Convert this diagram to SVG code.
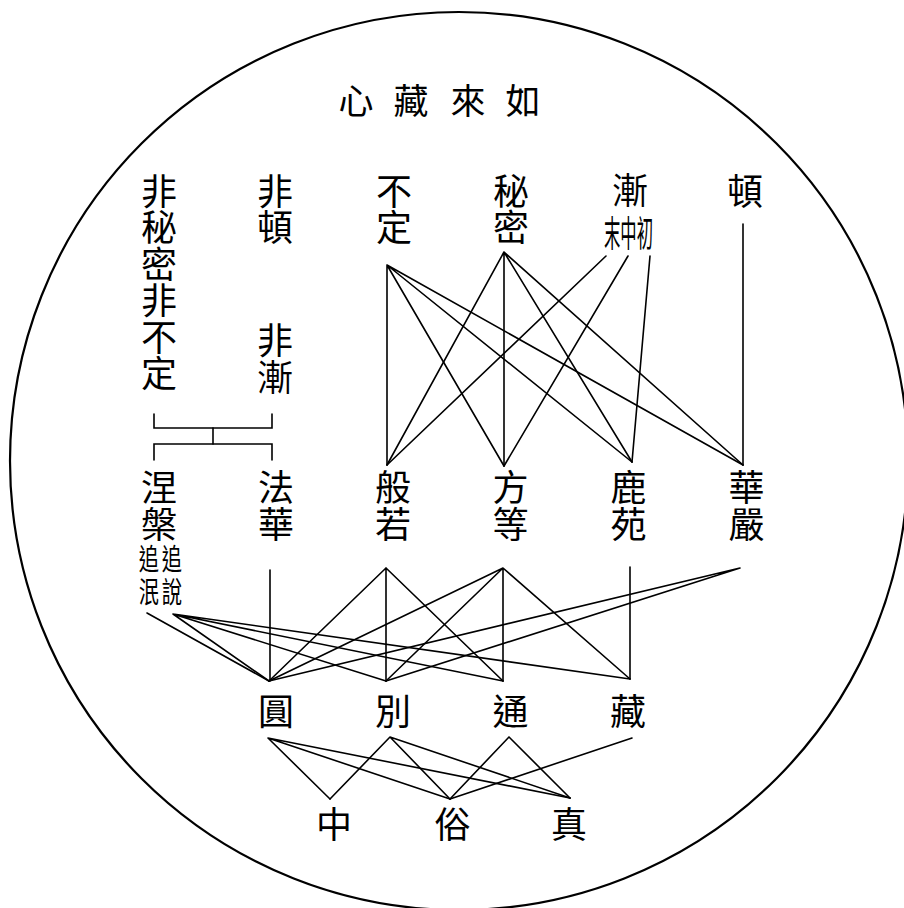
<svg xmlns="http://www.w3.org/2000/svg" width="904" height="908" viewBox="0 0 904 908">
<style>
  .t { font-family: "Noto Sans CJK TC", "Noto Sans CJK SC", sans-serif; font-size: 36px; fill: #000; text-anchor: middle; }
  .title { font-size: 35px; }
  .sm { font-size: 29px; }
  .c { fill: none; stroke: #000; stroke-width: 1.6; stroke-linecap: round; }
  .ring { fill: none; stroke: #000; stroke-width: 2.2; }
</style>
<rect width="904" height="908" fill="#fff"/>
<circle class="ring" cx="459" cy="461" r="449"/>

<g id="title">
  <text class="t title" x="356" y="114">心</text>
  <text class="t title" x="411" y="114">藏</text>
  <text class="t title" x="468" y="114">來</text>
  <text class="t title" x="523" y="114">如</text>
</g>

<g id="n-fei-mimi-fei-buding">
  <text class="t" x="159" y="204.7">非</text>
  <text class="t" x="159" y="241.2">秘</text>
  <text class="t" x="159" y="277.7">密</text>
  <text class="t" x="159" y="314.2">非</text>
  <text class="t" x="159" y="350.7">不</text>
  <text class="t" x="159" y="387.2">定</text>
</g>
<g id="n-fei-dun-fei-jian">
  <text class="t" x="275" y="204.7">非</text>
  <text class="t" x="275" y="241.2">頓</text>
  <text class="t" x="275" y="353.7">非</text>
  <text class="t" x="275" y="390.7">漸</text>
</g>
<g id="n-buding">
  <text class="t" x="394" y="204.7">不</text>
  <text class="t" x="394" y="241.2">定</text>
</g>
<g id="n-mimi">
  <text class="t" x="511" y="204.7">秘</text>
  <text class="t" x="511" y="241.2">密</text>
</g>
<g id="n-jian">
  <text class="t" x="630" y="203.7">漸</text>
  <text class="t" x="604" y="247.2" text-anchor="start" style="text-anchor:start" textLength="49" lengthAdjust="spacingAndGlyphs">末中初</text>
</g>
<g id="n-dun">
  <text class="t" x="745" y="204.7">頓</text>
</g>

<g id="bracket">
  <path class="c" d="M154 414 V428 H272 V414"/>
  <path class="c" d="M213 428 V444"/>
  <path class="c" d="M154 460 V444 H272 V460"/>
</g>

<g id="n-niepan">
  <text class="t" x="159" y="501.2">涅</text>
  <text class="t" x="159" y="538">槃</text>
  <text class="t sm" transform="translate(149 570) scale(0.7 1)" x="0" y="0">追</text>
  <text class="t sm" transform="translate(172 570) scale(0.7 1)" x="0" y="0">追</text>
  <text class="t sm" transform="translate(149 603) scale(0.7 1)" x="0" y="0">泯</text>
  <text class="t sm" transform="translate(172 603) scale(0.7 1)" x="0" y="0">說</text>
</g>
<g id="n-fahua">
  <text class="t" x="276" y="501.2">法</text>
  <text class="t" x="276" y="538">華</text>
</g>
<g id="n-banruo">
  <text class="t" x="393" y="501.2">般</text>
  <text class="t" x="393" y="538">若</text>
</g>
<g id="n-fangdeng">
  <text class="t" x="510.5" y="501.2">方</text>
  <text class="t" x="510.5" y="538">等</text>
</g>
<g id="n-luyuan">
  <text class="t" x="628.5" y="501.2">鹿</text>
  <text class="t" x="628.5" y="538">苑</text>
</g>
<g id="n-huayan">
  <text class="t" x="746.5" y="501.2">華</text>
  <text class="t" x="746.5" y="538">嚴</text>
</g>

<g id="n-yuan"><text class="t" x="276" y="724.7">圓</text></g>
<g id="n-bie"><text class="t" x="393" y="724.7">別</text></g>
<g id="n-tong"><text class="t" x="510.5" y="724.7">通</text></g>
<g id="n-zang"><text class="t" x="628" y="724.7">藏</text></g>

<g id="n-zhong"><text class="t" x="334" y="837.7">中</text></g>
<g id="n-su"><text class="t" x="452.5" y="837.7">俗</text></g>
<g id="n-zhen"><text class="t" x="569" y="837.7">真</text></g>

<g id="connectors">
  <!-- top to middle -->
  <path class="c" d="M743 224 L743 465"/>
  <path class="c" d="M387 265 L387 465 M387 265 L504 466 M387 265 L632 462 M387 265 L743 465"/>
  <path class="c" d="M504 252 L387 465 M504 252 L504 466 M504 252 L632 462 M504 252 L743 465"/>
  <path class="c" d="M606 256 L387 465 M628 256 L504 466 M650 256 L632 462"/>
  <!-- middle to lower -->
  <path class="c" d="M270 570 L270 681"/>
  <path class="c" d="M386 568 L269 681 M386 568 L386 681 M386 568 L503 681"/>
  <path class="c" d="M503 568 L269 681 M503 568 L386 681 M503 568 L503 681 M503 568 L630 679"/>
  <path class="c" d="M630 567 L630 679"/>
  <path class="c" d="M740 568 L269 681 M740 568 L386 681"/>
  <path class="c" d="M147 613 L269 681"/>
  <path class="c" d="M173 614 L269 681 M173 614 L386 681 M173 614 L503 681 M173 614 L630 679"/>
  <!-- lower to bottom -->
  <path class="c" d="M268 738 L330 799 M268 738 L450 799 M268 738 L570 798"/>
  <path class="c" d="M390 737 L330 799 M390 737 L450 799 M390 737 L570 798"/>
  <path class="c" d="M509 737 L450 799 M509 737 L570 798"/>
  <path class="c" d="M632 738 L450 799"/>
</g>
</svg>
